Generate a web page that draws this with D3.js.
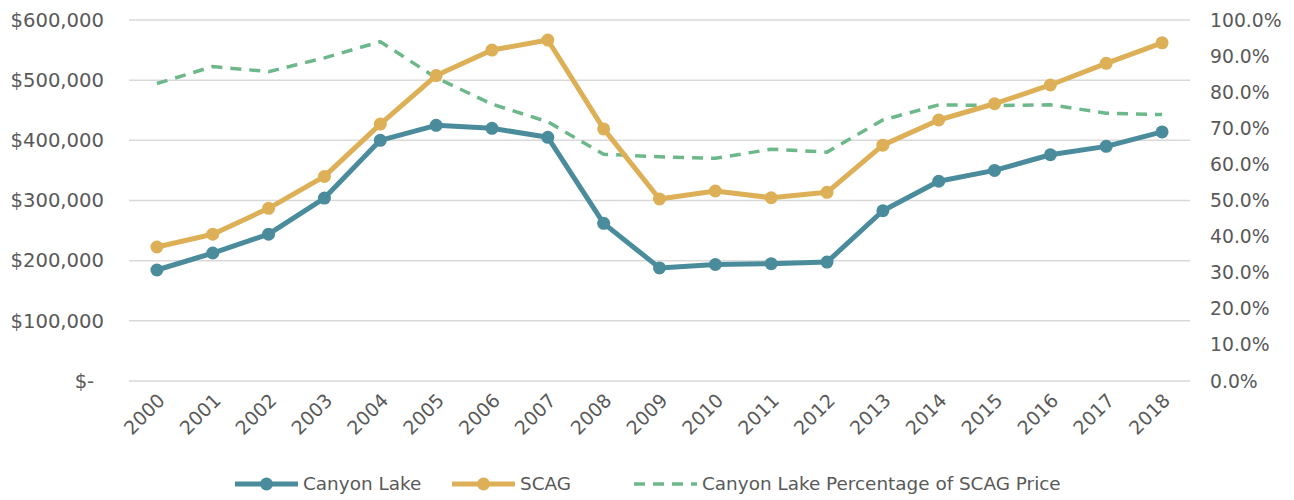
<!DOCTYPE html>
<html>
<head>
<meta charset="utf-8">
<script src="https://cdn.jsdelivr.net/npm/d3@7"></script>
<style>
  html, body { margin: 0; padding: 0; background: #fff; }
  svg text { font-family: "DejaVu Sans", sans-serif; fill: #595959; }
</style>
</head>
<body>
<svg id="chart" width="1294" height="500"></svg>
<script>
const years = ["2000","2001","2002","2003","2004","2005","2006","2007","2008","2009","2010","2011","2012","2013","2014","2015","2016","2017","2018"];
const canyonLake = [184500,212700,244000,304000,400000,425000,420000,405000,262000,188000,193600,195000,197700,283000,332000,350000,376000,390000,414000];
const scag = [222700,244000,287000,340000,427000,507700,550000,566700,419000,302500,315800,304600,313600,392000,433800,460800,492000,528000,562000];
const pctOfScag = [0.824,0.871,0.857,0.895,0.940,0.840,0.767,0.718,0.628,0.621,0.617,0.642,0.634,0.723,0.765,0.763,0.765,0.742,0.738];
const leftTicks = [0,100000,200000,300000,400000,500000,600000];
const rightTicks = [0,0.1,0.2,0.3,0.4,0.5,0.6,0.7,0.8,0.9,1.0];
const seriesNames = ["Canyon Lake","SCAG","Canyon Lake Percentage of SCAG Price"];
const colors = {teal:"#4a8c9c", gold:"#ddb057", green:"#6db88a", grid:"#d9d9d9"};

const svg = d3.select("#chart");
const plot = {left:129, right:1190, top:20, bottom:381};
const fs = 19;

const x = d3.scalePoint().domain(years).range([plot.left, plot.right]).padding(0.5);
const y = d3.scaleLinear().domain([0,600000]).range([plot.bottom, plot.top]);
const y2 = d3.scaleLinear().domain([0,1]).range([plot.bottom, plot.top]);

// gridlines
svg.append("g").selectAll("line").data(leftTicks).join("line")
  .attr("x1", plot.left).attr("x2", plot.right)
  .attr("y1", d => y(d)).attr("y2", d => y(d))
  .attr("stroke", colors.grid).attr("stroke-width", 1.5);

// left axis
const leftFmt = d => d === 0 ? "$-\u2002" : "$" + d3.format(",")(d);
const ya = svg.append("g").attr("transform", `translate(${plot.left - 25},0)`)
  .call(d3.axisLeft(y).tickValues(leftTicks).tickFormat(leftFmt).tickSize(0).tickPadding(0));
ya.select(".domain").remove();
ya.selectAll("text").style("font-size", "19.6px").attr("font-family", null).attr("fill", "#595959");

// right axis
const yb = svg.append("g").attr("transform", `translate(${plot.right + 20},0)`)
  .call(d3.axisRight(y2).tickValues(rightTicks).tickFormat(d3.format(".1%")).tickSize(0).tickPadding(0));
yb.select(".domain").remove();
yb.selectAll("text").style("font-size", "18.8px").attr("font-family", null).attr("fill", "#595959");

// x axis
const xa = svg.append("g").attr("transform", `translate(0,${plot.bottom})`)
  .call(d3.axisBottom(x).tickSize(0).tickPadding(0));
xa.select(".domain").remove();
xa.selectAll("text")
  .style("font-size", fs + "px").attr("font-family", null).attr("fill", "#595959")
  .attr("text-anchor", "end")
  .attr("dy", "0.35em")
  .attr("transform", d => `translate(4,16) rotate(-45)`)
  .attr("y", 0);

// lines
const lineL = d3.line().x((d,i) => x(years[i])).y(d => y(d));
const lineR = d3.line().x((d,i) => x(years[i])).y(d => y2(d));

svg.append("path").datum(pctOfScag).attr("d", lineR)
  .attr("fill","none").attr("stroke", colors.green).attr("stroke-width", 3.5)
  .attr("stroke-dasharray","11,8");

function drawSeries(data, color) {
  svg.append("path").datum(data).attr("d", lineL)
    .attr("fill","none").attr("stroke", color).attr("stroke-width", 5).attr("stroke-linejoin","round");
  svg.append("g").selectAll("circle").data(data).join("circle")
    .attr("cx", (d,i) => x(years[i])).attr("cy", d => y(d)).attr("r", 6.5).attr("fill", color);
}
drawSeries(canyonLake, colors.teal);
drawSeries(scag, colors.gold);

// legend
const ly = 484;
const legend = [
  {name: seriesNames[0], color: colors.teal, x0: 235, marker: true},
  {name: seriesNames[1], color: colors.gold, x0: 452, marker: true},
  {name: seriesNames[2], color: colors.green, x0: 634, marker: false}
];
const lg = svg.append("g");
legend.forEach(l => {
  const g = lg.append("g");
  g.append("line").attr("x1", l.x0).attr("x2", l.x0 + 63).attr("y1", ly).attr("y2", ly)
    .attr("stroke", l.color).attr("stroke-width", l.marker ? 5 : 3.5)
    .attr("stroke-dasharray", l.marker ? null : "11,8");
  if (l.marker) g.append("circle").attr("cx", l.x0 + 31.5).attr("cy", ly).attr("r", 6.5).attr("fill", l.color);
  g.append("text").attr("x", l.x0 + 68).attr("y", ly).attr("dy","0.35em")
    .style("font-size", "18.4px").text(l.name);
});
</script>
</body>
</html>
